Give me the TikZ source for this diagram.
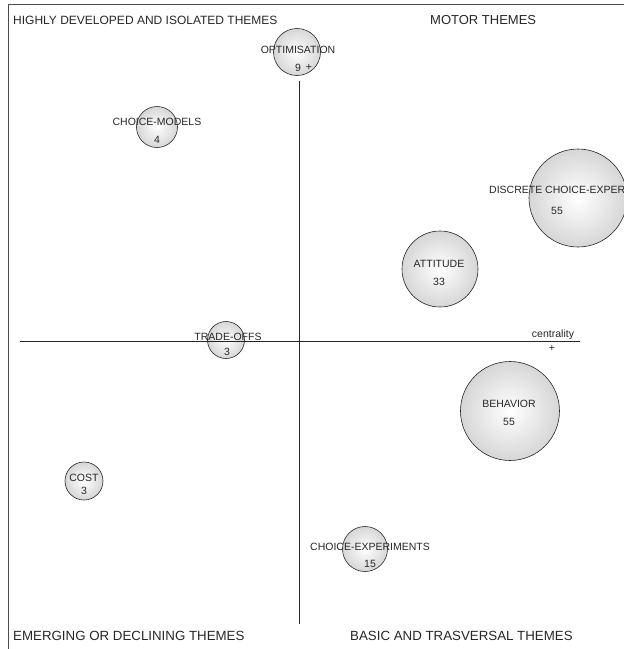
\documentclass[tikz,border=0pt]{standalone}
\usepackage{fontspec}
\setmainfont{Liberation Sans}
\usetikzlibrary{positioning}
\tikzset{
    bubble/.style={draw=black!85, line width=0.6pt, circle, inner sep=0pt, minimum size=#1, inner color=white, outer color=black!16},
    theme/.style={font=\fontsize{10.5}{12}\selectfont, inner sep=0pt, text height=7.5pt, text depth=0pt, text=black!85},
    quadrant/.style={font=\fontsize{#1}{15}\selectfont, anchor=base west, inner sep=0pt, text=black!85},
    quadrant/.default=13,
    axisline/.style={draw=black!85, line width=0.6pt},
    frameline/.style={draw=black!70, line width=0.8pt}
}

\begin{document}
\begin{tikzpicture}[x=1pt, y=-1pt]
            \useasboundingbox (0,0) rectangle (624,649);
            \clip (0,0) rectangle (624,649);
            % ----
            \coordinate (cornerTL) at (8,4);
            \coordinate (cornerTR) at (624,4);
            \coordinate (cornerBL) at (8,649);
            \path[frameline] (cornerTR) -- (cornerTL) -- (cornerBL);
            % ----
            \node[bubble=47pt] (optimisation) at (297,52) {};
            \node[bubble=41pt] (choicemodels) at (157,127) {};
            \node[bubble=98pt] (discrete) at (578,198) {};
            \node[bubble=76pt] (attitude) at (440,269) {};
            \node[bubble=37pt] (tradeoffs) at (226,340) {};
            \node[bubble=99pt] (behavior) at (510,411) {};
            \node[bubble=38pt] (cost) at (84,481) {};
            \node[bubble=45pt] (choiceexp) at (365,549) {};
            % ----
            \coordinate (densityTop) at (299,81);
            \coordinate (densityBot) at (299,624);
            \coordinate (centralityL) at (20,341);
            \coordinate (centralityR) at (580,341);
            \path[axisline] (densityTop) -- (densityBot);
            \path[axisline] (centralityL) -- (centralityR);
            % ----
            \node[theme] (optimisation-l) at (298,50) {OPTIMISATION};
            \node[theme] (optimisation-n) at (298,68) {9};
            \node[theme] (density-plus) at (309,67) {+};
            \node[theme] (choicemodels-l) at (157,122) {CHOICE-MODELS};
            \node[theme] (choicemodels-n) at (157,140) {4};
            \node[theme, anchor=west] (discrete-l) at (489,190) {DISCRETE CHOICE-EXPER};
            \node[theme] (discrete-n) at (557,211) {55};
            \node[theme] (attitude-l) at (439,264) {ATTITUDE};
            \node[theme] (attitude-n) at (439,282) {33};
            \node[theme] (tradeoffs-l) at (228,337) {TRADE-OFFS};
            \node[theme] (tradeoffs-n) at (227,352) {3};
            \node[theme] (centrality-l) at (553,334) {centrality};
            \node[theme] (centrality-plus) at (552,348) {+};
            \node[theme] (behavior-l) at (509,404) {BEHAVIOR};
            \node[theme] (behavior-n) at (509,422) {55};
            \node[theme] (cost-l) at (84,478) {COST};
            \node[theme] (cost-n) at (84,491) {3};
            \node[theme] (choiceexp-l) at (370,547) {CHOICE-EXPERIMENTS};
            \node[theme] (choiceexp-n) at (370,564) {15};
            % ----
            \node[quadrant=12] (isolated) at (13,24) {HIGHLY DEVELOPED AND ISOLATED THEMES};
            \node[quadrant] (motor) at (430,24) {MOTOR THEMES};
            \node[quadrant=13.3] (emerging) at (13,640) {EMERGING OR DECLINING THEMES};
            \node[quadrant=13.3] (basic) at (350,640) {BASIC AND TRASVERSAL THEMES};
\end{tikzpicture}
\end{document}
